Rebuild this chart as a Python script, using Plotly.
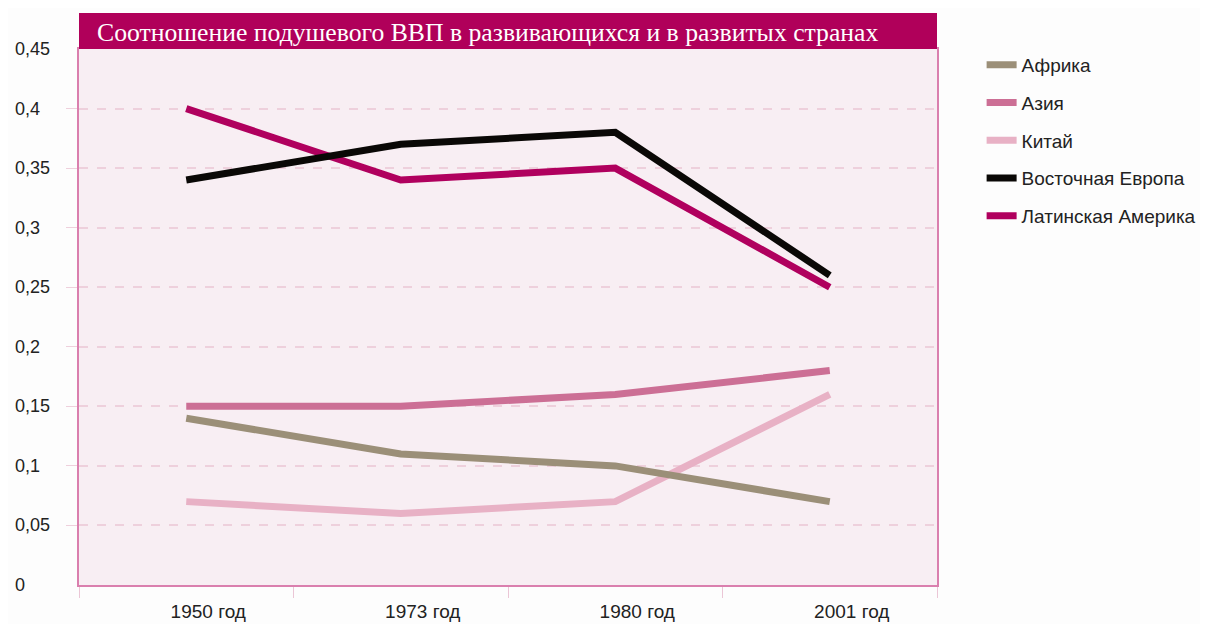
import plotly.graph_objects as go

categories = ["1950 год", "1973 год", "1980 год", "2001 год"]
series_names = ["Африка", "Азия", "Китай", "Восточная Европа", "Латинская Америка"]
africa = [0.14, 0.11, 0.10, 0.07]
asia = [0.15, 0.15, 0.16, 0.18]
china = [0.07, 0.06, 0.07, 0.16]
east_europe = [0.34, 0.37, 0.38, 0.26]
latin_america = [0.40, 0.34, 0.35, 0.25]
series_values = [africa, asia, china, east_europe, latin_america]
colors = ["#9B8F78", "#CC6F95", "#E8B1C5", "#0A0806", "#B0005E"]

y_tick_vals = [0, 0.05, 0.1, 0.15, 0.2, 0.25, 0.3, 0.35, 0.4, 0.45]
y_tick_text = ["0", "0,05", "0,1", "0,15", "0,2", "0,25", "0,3", "0,35", "0,4", "0,45"]
title_text = "Соотношение подушевого ВВП в развивающихся и в развитых странах"

# page body adds an 8px offset; figure is sized to fill 1208x624 window
W, H = 1200, 616
ml, mr, mt, mb = 71, 271, 41, 39
plot_h = H - mt - mb
SANS = "Liberation Sans, Arial, sans-serif"

fig = go.Figure()
# draw in reverse so the first legend series lies on top
items = list(zip(series_names, series_values, colors))
for rank, (name, vals, col) in reversed(list(enumerate(items))):
    fig.add_trace(go.Scatter(
        x=categories, y=vals, name=name, mode="lines",
        line=dict(color=col, width=7), legendgroup=name, legendrank=rank + 1,
    ))

annotations = []
for v, t in zip(y_tick_vals, y_tick_text):
    annotations.append(dict(
        x=0, xref="paper", y=v, yref="y", text=t, showarrow=False,
        xanchor="left", xshift=-66, yanchor="middle",
        font=dict(family=SANS, size=18, color="#222222"),
    ))
annotations.append(dict(
    x=0, xref="paper", y=1 + 17 / plot_h, yref="paper", text=title_text,
    showarrow=False, xanchor="left", yanchor="middle", xshift=16,
    font=dict(family="Liberation Serif, Times New Roman, serif", size=25.7, color="white"),
))

fig.update_layout(
    width=W, height=H,
    margin=dict(l=ml, r=mr, t=mt, b=mb, autoexpand=False),
    paper_bgcolor="#FDFDFD",
    plot_bgcolor="#F8EEF3",
    showlegend=True,
    legend=dict(
        x=1.052, xref="paper", xanchor="left", y=1 + 3 / plot_h, yanchor="top",
        traceorder="grouped", tracegroupgap=10, itemwidth=30,
        font=dict(family=SANS, size=19, color="#222222"),
        bgcolor="rgba(0,0,0,0)", borderwidth=0,
    ),
    xaxis=dict(
        type="category", range=[-0.5, 3.5], automargin=False,
        showgrid=False, zeroline=False,
        showline=True, linecolor="#DA7FAE", linewidth=2, mirror=True,
        ticks="outside", tickson="boundaries", ticklen=11, tickcolor="#EBC6D6",
        tickfont=dict(family=SANS, size=19, color="#222222"),
        ticklabelshift=22, ticklabelstandoff=8,
    ),
    yaxis=dict(
        range=[0, 0.45], tickvals=y_tick_vals[1:-1], showticklabels=False,
        automargin=False,
        showgrid=True, gridcolor="#EED0DC", griddash="dash", gridwidth=1.5,
        zeroline=False,
        showline=True, linecolor="#DA7FAE", linewidth=2, mirror=True,
        ticks="outside", ticklen=11, tickcolor="#EED0DC",
    ),
    shapes=[dict(
        type="rect", xref="paper", yref="paper",
        x0=0, x1=1, y0=1, y1=1 + 36 / plot_h,
        fillcolor="#B0005A", line=dict(width=0), layer="above",
    )],
    annotations=annotations,
)

fig.write_html("out.html")
